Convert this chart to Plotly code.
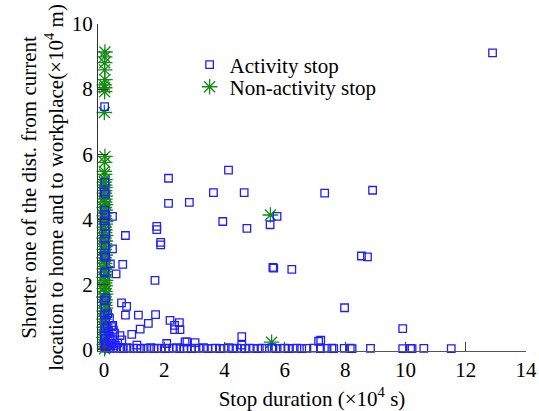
import plotly.graph_objects as go

# ---------------- data (x: stop duration ×10^4 s, y: distance ×10^4 m) ----------------
# Non-activity stops (green asterisks)
non_x = [0.02, 0.04, 0.01, 0.05, 0.03, 0.00, 0.04, 0.02, 0.05, 0.01,
         0.03, 0.05, 0.00, 0.02, 0.04, 0.01, 0.05, 0.03, 0.02, 0.04,
         0.00, 0.05, 0.03, 0.01, 0.04, 0.02, 0.05, 0.00, 0.03, 0.04,
         0.01, 0.05, 0.02, 0.03, 0.00, 0.04, 0.05, 0.01, 0.03, 0.02,
         0.04, 0.00, 0.05, 0.02, 0.03, 0.01, 0.04, 0.05, 0.02, 0.00,
         0.03, 0.04, 0.01, 0.05, 0.02, 0.03, 0.04, 0.01, 0.02, 0.03,
         0.02, 0.01, 0.03, 0.02, 0.01, 0.02, 0.03, 0.01, 0.02, 0.02,
         0.01, 0.03, 0.02, 0.02,
         5.52, 5.56, 0.02, 0.03]
non_y = [0.02, 0.08, 0.15, 0.22, 0.30, 0.37, 0.45, 0.52, 0.60, 0.68,
         0.76, 0.85, 0.93, 1.01, 1.10, 1.18, 1.27, 1.35, 1.44, 1.52,
         1.61, 1.70, 1.78, 1.87, 1.95, 2.04, 2.12, 2.21, 2.30, 2.38,
         2.47, 2.55, 2.64, 2.73, 2.81, 2.90, 2.98, 3.07, 3.16, 3.24,
         3.33, 3.42, 3.50, 3.59, 3.67, 3.76, 3.85, 3.93, 4.02, 4.10,
         4.19, 4.28, 4.36, 4.45, 4.53, 4.62, 4.71, 4.80, 4.88, 4.97,
         5.05, 5.14, 5.22, 5.38, 5.47, 5.75, 5.93,
         7.28, 7.92, 8.04, 8.13, 8.29, 8.59, 8.81,
         4.13, 0.22, 8.99, 9.14]

# Activity stops (blue open squares)
act_x = [12.89, 0.02, 4.13, 2.14, 3.63, 4.65, 2.14, 2.83, 3.94, 4.74,
         5.51, 5.74, 5.60, 1.75, 1.75, 1.88, 1.88, 0.71, 0.28, 0.28,
         0.21, 0.62, 0.40, 1.69, 0.58, 0.75, 0.71, 1.14, 1.71, 2.19,
         2.50, 2.34, 2.34, 2.52, 1.47, 1.20, 0.92, 0.53, 0.29, 0.31,
         0.59, 4.57, 7.32, 8.91, 6.23, 8.54, 8.74, 7.98, 9.91, 7.19,
         5.63, 4.57, 2.75, 3.02, 7.12, 2.08, 2.69, 1.09,
         # column near x = 0
         0.03, 0.01, 0.04, 0.02, 0.05, 0.01, 0.03, 0.06, 0.02, 0.04,
         0.01, 0.05, 0.03, 0.02, 0.06, 0.01, 0.04, 0.02, 0.05, 0.03,
         0.01, 0.04, 0.02, 0.03,
         # small durations, low distance
         0.12, 0.18, 0.25, 0.15, 0.20, 0.30, 0.26, 0.10, 0.35, 0.45,
         0.14, 0.22, 0.38,
         # bottom row (distance close to 0)
         0.08, 0.20, 0.32, 0.42, 0.55, 0.64, 0.76, 0.86, 0.98, 1.09,
         1.22, 1.33, 1.42, 1.55, 1.66, 1.75, 1.90, 2.03, 2.15, 2.30,
         2.41, 2.52, 2.64, 2.75, 2.90, 3.02, 3.15, 3.30, 3.44, 3.58,
         3.70, 3.85, 3.98, 4.13, 4.27, 4.41, 4.55, 4.68, 4.82, 4.96,
         5.10, 5.24, 5.40, 5.57, 5.70, 5.85, 5.99, 6.12, 6.27, 6.40,
         6.56, 6.73, 6.95, 7.18, 7.40, 7.56, 7.62, 7.97, 8.17, 8.23,
         8.84, 9.91, 10.17, 10.22, 10.61, 11.52]
act_y = [9.11, 7.46, 5.51, 5.26, 4.82, 4.82, 4.49, 4.52, 3.93, 3.72,
         3.83, 4.09, 2.52, 3.78, 3.68, 3.29, 3.21, 3.50, 4.09, 3.09,
         2.63, 2.61, 2.32, 2.12, 1.43, 1.32, 1.05, 1.05, 1.07, 0.89,
         0.82, 0.74, 0.61, 0.61, 0.80, 0.62, 0.46, 0.42, 0.74, 0.59,
         0.29, 0.39, 4.80, 4.89, 2.46, 2.87, 2.84, 1.28, 0.64, 0.28,
         2.50, 0.13, 0.23, 0.21, 0.25, 0.18, 0.23, 0.13,
         5.13, 4.84, 4.77, 4.28, 4.13, 3.95, 3.78, 3.55, 3.39, 3.19,
         2.88, 2.83, 2.39, 2.35, 1.58, 1.51, 1.27, 1.05, 0.90, 0.64,
         0.44, 0.34, 0.15, 0.08,
         1.10, 0.95, 0.70, 0.55, 0.40, 0.30, 0.18, 0.72, 0.50, 0.20,
         0.25, 0.10, 0.12,
         0.04, 0.03, 0.05, 0.03, 0.04, 0.02, 0.05, 0.03, 0.04, 0.03,
         0.02, 0.04, 0.03, 0.05, 0.02, 0.04, 0.03, 0.02, 0.04, 0.03,
         0.05, 0.02, 0.04, 0.03, 0.02, 0.04, 0.03, 0.05, 0.02, 0.03,
         0.04, 0.02, 0.03, 0.05, 0.02, 0.04, 0.03, 0.02, 0.04, 0.03,
         0.02, 0.04, 0.03, 0.05, 0.02, 0.03, 0.04, 0.02, 0.03, 0.04,
         0.02, 0.03, 0.04, 0.02, 0.03, 0.04, 0.02, 0.03, 0.04, 0.02,
         0.03, 0.02, 0.03, 0.02, 0.03, 0.02]

x_ticks = [0, 2, 4, 6, 8, 10, 12, 14]
y_ticks = [0, 2, 4, 6, 8, 10]

FONT = "Liberation Serif, Times New Roman, serif"
GREEN = "rgb(20,140,20)"
BLUE = "rgb(30,30,255)"

fig = go.Figure()
fig.add_trace(go.Scatter(
    x=non_x, y=non_y, mode="markers", name="Non-activity stop",
    legend="legend2", cliponaxis=False,
    marker=dict(symbol="asterisk-open", size=13, color=GREEN,
                line=dict(color=GREEN, width=1.3)),
))
fig.add_trace(go.Scatter(
    x=act_x, y=act_y, mode="markers", name="Activity stop",
    legend="legend", cliponaxis=False,
    marker=dict(symbol="square-open", size=7.5, color=BLUE,
                line=dict(color=BLUE, width=1.3)),
))

leg_common = dict(xanchor="left", yanchor="middle", bgcolor="rgba(0,0,0,0)",
                  font=dict(size=21), itemsizing="trace")

fig.update_layout(
    width=539, height=411,
    margin=dict(l=98, r=13, t=24, b=60),
    paper_bgcolor="white", plot_bgcolor="white",
    font=dict(family=FONT, size=21, color="black"),
    showlegend=True,
    legend=dict(x=0.214, y=0.875, **leg_common),
    legend2=dict(x=0.214, y=0.807, **leg_common),
    xaxis=dict(range=[-0.2, 14], tickvals=x_ticks, ticks="inside", ticklen=9,
               tickcolor="#444", showline=True, linecolor="#555", linewidth=1,
               showgrid=False, zeroline=False, automargin=False,
               tickfont=dict(size=21),
               title=dict(text="Stop duration (×10<sup>4</sup> s)",
                          font=dict(size=21))),
    yaxis=dict(range=[-0.05, 10], tickvals=y_ticks, ticks="inside", ticklen=10,
               tickcolor="#333", showline=True, linecolor="#333", linewidth=1,
               showgrid=False, zeroline=False, automargin=True,
               ticksuffix="\u00a0",
               tickfont=dict(size=21),
               title=dict(text="Shorter one of the dist. from current<br>"
                               "location to home and to workplace(×10<sup>4</sup> m)",
                          font=dict(size=21), standoff=2)),
)

fig.write_html("out.html", config={"displayModeBar": False},
               post_script="document.body.style.margin='0';")
